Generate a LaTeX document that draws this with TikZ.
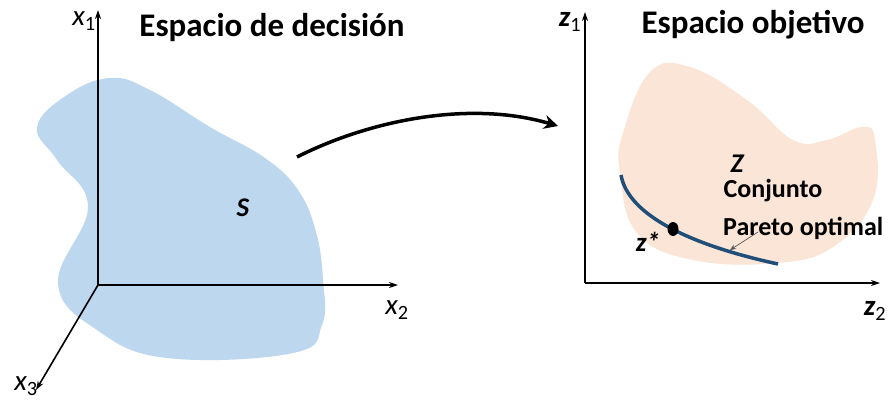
\documentclass[tikz,border=0pt]{standalone}
\usepackage{fontspec}
\setmainfont{Carlito}
\usepackage{xcolor}
\usepackage{tikz}
\usetikzlibrary{positioning, arrows.meta, calc, shapes.geometric}
\definecolor{decblue}{HTML}{BDD7EE}
\definecolor{objpeach}{HTML}{FBE5D6}
\definecolor{paretoblue}{HTML}{1F4E79}

\tikzset{
  axis/.style={line width=1.6pt, -{Stealth[length=9pt, width=6pt]}},
  axislabel/.style={font=\fontsize{29}{29}\selectfont\itshape, inner sep=0pt},
  title/.style={font=\fontsize{33}{35}\selectfont\bfseries, inner sep=0pt},
  setlabel/.style={font=\fontsize{27}{27}\selectfont\bfseries\itshape, inner sep=0pt},
  annot/.style={font=\fontsize{26}{28}\selectfont\bfseries, inner sep=0pt}
}

\begin{document}
\begin{tikzpicture}[x=1pt, y=-1pt]
    \useasboundingbox (0,0) rectangle (890,402);

    % decision space
    \fill[decblue] plot[smooth cycle, tension=0.7] coordinates {
      (110,78) (67,95) (37,127) (57,160) (88,207) (58,283) (97,330)
      (167,358) (293,353) (322,325) (323,280) (316,232) (298,190)
      (265,158) (210,127) (150,90)};

    \coordinate (xo) at (98,285);
    \coordinate (xtop) at (98,10);
    \coordinate (xright) at (398,285);
    \coordinate (xdown) at (36,390);
    \draw[axis] (xo) -- (xtop);
    \draw[axis] (xo) -- (xright);
    \draw[axis] (xo) -- (xdown);

    \node[axislabel] (xlab1) at (84,21) {x\textsubscript{\upshape 1}};
    \node[axislabel] (xlab2) at (397,310) {x\textsubscript{\upshape 2}};
    \node[axislabel] (xlab3) at (26,386) {x\textsubscript{\upshape 3}};
    \node[title] (dectitle) at (272,28) {Espacio de decisión};
    \node[setlabel] (slab) at (243,208) {S};

    % mapping arrow
    \coordinate (mapstart) at (297,157);
    \coordinate (mapend) at (558,126);
    \draw[line width=3.5pt, -{Stealth[length=14pt, width=14pt]}]
      (mapstart) .. controls (370,120) and (470,100) .. (mapend);

    % objective space
    \fill[objpeach] plot[smooth cycle, tension=0.7] coordinates {
      (650,72) (623,133) (620,173) (637,233) (693,260) (777,263)
      (833,247) (873,200) (875,140) (862,127) (827,140) (793,140)
      (747,100) (690,67)};

    \coordinate (zo) at (585,283);
    \coordinate (ztop) at (585,12);
    \coordinate (zright) at (880,283);
    \draw[axis] (zo) -- (ztop);
    \draw[axis] (zo) -- (zright);

    \node[axislabel, font=\fontsize{29}{29}\selectfont\bfseries\itshape] (zlab1) at (570,22) {z\textsubscript{\upshape\mdseries 1}};
    \node[axislabel, font=\fontsize{29}{29}\selectfont\bfseries\itshape] (zlab2) at (875,311) {z\textsubscript{\upshape\mdseries 2}};
    \node[title] (objtitle) at (753,25) {Espacio objetivo};

    % pareto front
    \coordinate (pstart) at (621,175);
    \coordinate (pend) at (778,264);
    \draw[paretoblue, line width=3.5pt]
      (pstart) .. controls (628,215) and (690,245) .. (pend);
    \node[fill=black, ellipse, minimum width=11pt, minimum height=14pt, inner sep=0pt] (zstar) at (673,229) {};
    \node[setlabel] (zstarlab) at (648,242) {z*};
    \node[setlabel] (zlab) at (737,164) {Z};
    \node[annot] (conj) at (773,191) {Conjunto};
    \node[annot, anchor=west] (pareto) at (723,228) {Pareto optimal};
    \coordinate (ptail) at (758,232);
    \coordinate (ptip) at (730,250);
    \draw[gray!70!black, line width=0.7pt, -{Stealth[length=6pt, width=5pt]}]
      (ptail) -- (ptip);
\end{tikzpicture}
\end{document}
